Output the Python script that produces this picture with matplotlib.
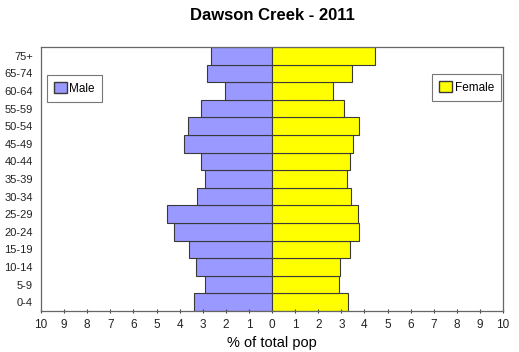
import numpy as np
import matplotlib.pyplot as plt
from matplotlib.patches import Patch

plt.rcParams['font.family'] = ['Liberation Sans', 'DejaVu Sans']

# Age groups, bottom to top
ages = ['0-4', '5-9', '10-14', '15-19', '20-24', '25-29', '30-34',
        '35-39', '40-44', '45-49', '50-54', '55-59', '60-64', '65-74', '75+']
male = [3.38, 2.90, 3.29, 3.59, 4.24, 4.55, 3.25,
        2.90, 3.07, 3.81, 3.64, 3.07, 2.03, 2.81, 2.64]
female = [3.29, 2.90, 2.94, 3.38, 3.77, 3.74, 3.42,
          3.25, 3.38, 3.52, 3.77, 3.12, 2.64, 3.46, 4.47]
xticks = list(range(-10, 11))
xticklabels = [str(abs(v)) for v in xticks]

male_color = '#9999FF'
female_color = '#FFFF00'
edge = '#3a3a3a'

fig = plt.figure(figsize=(5.19, 3.52), dpi=100)
ax = fig.add_axes([41 / 519, 1 - 311 / 352, 462 / 519, 264 / 352])

y = np.arange(len(ages))
ax.barh(y, [-m for m in male], height=1.0, color=male_color,
        edgecolor=edge, linewidth=0.8)
ax.barh(y, female, height=1.0, color=female_color,
        edgecolor=edge, linewidth=0.8)

ax.set_xlim(-10, 10)
ax.set_ylim(-0.5, len(ages) - 0.5)
ax.set_yticks(y)
ax.set_yticklabels(ages, fontsize=8, color='#222222')
ax.set_xticks(xticks)
ax.set_xticklabels(xticklabels, fontsize=8.5, color='#222222')
ax.tick_params(axis='y', length=0, pad=6)
ax.tick_params(axis='x', length=3, direction='inout', color='#444444', pad=4)

for s in ax.spines.values():
    s.set_color('#666666')
    s.set_linewidth(0.9)

ax.set_xlabel('% of total pop', fontsize=10.5, labelpad=4)
fig.text(272 / 519, 1 - 16 / 352, 'Dawson Creek - 2011', ha='center',
         va='center', fontsize=12, fontweight='bold')


def side_legend(color, label, loc, anchor):
    leg = ax.legend(handles=[Patch(facecolor=color, edgecolor=edge, label=label)],
                    loc=loc, bbox_to_anchor=anchor, fontsize=8.5,
                    frameon=True, fancybox=False, handlelength=1.1,
                    handleheight=1.1, handletextpad=0.2, borderpad=0.6,
                    borderaxespad=0)
    leg.get_frame().set_edgecolor('#555555')
    leg.get_frame().set_linewidth(0.8)
    return leg


ax.add_artist(side_legend(male_color, 'Male', 'upper left', (0.013, 0.894)))
side_legend(female_color, 'Female', 'upper right', (0.9957, 0.898))

fig.savefig('out.png', dpi=100)
